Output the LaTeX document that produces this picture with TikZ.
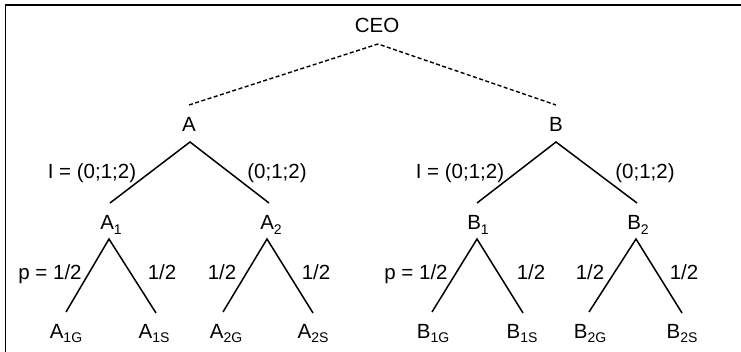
\documentclass[tikz,border=0pt]{standalone}
\usepackage{fontspec}
\setmainfont{Liberation Sans}
\newcommand\subx[1]{\raisebox{-4.5pt}{\fontsize{14}{14}\selectfont #1}}
\tikzset{
  lbl/.style={inner sep=0pt, anchor=base, font=\fontsize{20.5}{21}\selectfont},
  branch/.style={line width=1.5pt},
  dashbranch/.style={line width=1.4pt, dash pattern=on 4pt off 2.5pt},
  frame/.style={line width=1.6pt}
}
\begin{document}
\begin{tikzpicture}[x=1pt,y=-1pt]
\useasboundingbox (0,0) rectangle (741,352);
% frame (top and left)
\coordinate (fbl) at (5.5,352);
\coordinate (ftl) at (5.5,5);
\coordinate (ftr) at (741,5);
\draw[frame] (fbl) -- (ftl) -- (ftr);
% labels
\node[lbl] (CEO) at (377,33) {CEO};
\node[lbl] (A) at (189,132) {A};
\node[lbl] (B) at (556,132) {B};
\node[lbl] (A1) at (111,230) {A\subx{1}};
\node[lbl] (A2) at (271,230) {A\subx{2}};
\node[lbl] (B1) at (478,230) {B\subx{1}};
\node[lbl] (B2) at (638,230) {B\subx{2}};
\node[lbl] (A1G) at (66,338) {A\subx{1G}};
\node[lbl] (A1S) at (154,338) {A\subx{1S}};
\node[lbl] (A2G) at (226,338) {A\subx{2G}};
\node[lbl] (A2S) at (313,338) {A\subx{2S}};
\node[lbl] (B1G) at (433,338) {B\subx{1G}};
\node[lbl] (B1S) at (522,338) {B\subx{1S}};
\node[lbl] (B2G) at (590,338) {B\subx{2G}};
\node[lbl] (B2S) at (682,338) {B\subx{2S}};
% branch points
\coordinate (CEOb) at (378,44);
\coordinate (At) at (189,105);
\coordinate (Bt) at (556,105);
\coordinate (Ab) at (190,142);
\coordinate (Bb) at (556,142);
\coordinate (A1t) at (110,203);
\coordinate (A2t) at (269,203);
\coordinate (B1t) at (477,203);
\coordinate (B2t) at (637,203);
\coordinate (A1b) at (109,239);
\coordinate (A2b) at (267,239);
\coordinate (B1b) at (477,239);
\coordinate (B2b) at (636,239);
\coordinate (A1Gt) at (66,312);
\coordinate (A1St) at (156,313);
\coordinate (A2Gt) at (223,312);
\coordinate (A2St) at (313,313);
\coordinate (B1Gt) at (432,312);
\coordinate (B1St) at (523,313);
\coordinate (B2Gt) at (589,312);
\coordinate (B2St) at (682,313);
% connectors
\draw[dashbranch] (At) -- (CEOb) -- (Bt);
\draw[branch] (A1t) -- (Ab) -- (A2t);
\draw[branch] (B1t) -- (Bb) -- (B2t);
\draw[branch] (A1Gt) -- (A1b) -- (A1St);
\draw[branch] (A2Gt) -- (A2b) -- (A2St);
\draw[branch] (B1Gt) -- (B1b) -- (B1St);
\draw[branch] (B2Gt) -- (B2b) -- (B2St);
% edge labels
\node[lbl] (lA1) at (92,179) {I = (0;1;2)};
\node[lbl] (lA2) at (277,179) {(0;1;2)};
\node[lbl] (lB1) at (460,179) {I = (0;1;2)};
\node[lbl] (lB2) at (645,179) {(0;1;2)};
\node[lbl] (pA1G) at (50,280) {p = 1/2};
\node[lbl] (pA1S) at (162,280) {1/2};
\node[lbl] (pA2G) at (222,280) {1/2};
\node[lbl] (pA2S) at (316,280) {1/2};
\node[lbl] (pB1G) at (416,280) {p = 1/2};
\node[lbl] (pB1S) at (531,280) {1/2};
\node[lbl] (pB2G) at (590,280) {1/2};
\node[lbl] (pB2S) at (684,280) {1/2};
\end{tikzpicture}
\end{document}
